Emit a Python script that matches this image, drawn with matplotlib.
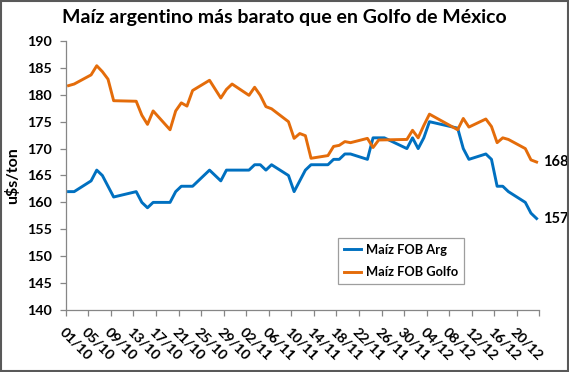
import datetime as dt

import matplotlib

matplotlib.use("Agg")
import matplotlib.pyplot as plt
from matplotlib.patches import Rectangle

YEAR = 2015
START = dt.date(YEAR, 10, 1)

# Maíz FOB Golfo (u$s/ton)
golfo_dates = [
    "01/10", "02/10", "05/10", "06/10", "07/10", "08/10", "09/10", "13/10",
    "14/10", "15/10", "16/10", "19/10", "20/10", "21/10", "22/10", "23/10",
    "26/10", "28/10", "29/10", "30/10", "02/11", "03/11", "04/11", "05/11",
    "06/11", "09/11", "10/11", "11/11", "12/11", "13/11", "16/11", "17/11",
    "18/11", "19/11", "20/11", "23/11", "24/11", "25/11", "30/11", "01/12",
    "02/12", "03/12", "04/12", "09/12", "10/12", "11/12", "14/12", "15/12",
    "16/12", "17/12", "18/12", "21/12", "22/12", "23/12",
]
golfo = [
    181.7, 182.0, 183.7, 185.4, 184.3, 182.9, 178.9, 178.8,
    176.2, 174.5, 177.0, 173.5, 177.0, 178.5, 177.9, 180.8,
    182.7, 179.4, 181.0, 182.0, 179.9, 181.4, 179.9, 177.8,
    177.4, 175.0, 171.9, 172.8, 172.4, 168.2, 168.7, 170.4,
    170.6, 171.3, 171.1, 171.9, 170.2, 171.6, 171.7, 173.4,
    172.0, 174.3, 176.4, 173.5, 175.6, 174.0, 175.5, 174.1,
    171.1, 172.0, 171.7, 170.0, 167.9, 167.5,
]

# Maíz FOB Arg (u$s/ton)
arg_dates = [
    "01/10", "02/10", "05/10", "06/10", "07/10", "08/10", "09/10", "13/10",
    "14/10", "15/10", "16/10", "19/10", "20/10", "21/10", "22/10", "23/10",
    "26/10", "28/10", "29/10", "30/10", "02/11", "03/11", "04/11", "05/11",
    "06/11", "09/11", "10/11", "11/11", "12/11", "13/11", "16/11", "17/11",
    "18/11", "19/11", "20/11", "23/11", "24/11", "25/11", "26/11", "30/11",
    "01/12", "02/12", "03/12", "04/12", "09/12", "10/12", "11/12", "14/12",
    "15/12", "16/12", "17/12", "18/12", "21/12", "22/12", "23/12",
]
arg = [
    162, 162, 164, 166, 165, 163, 161, 162,
    160, 159, 160, 160, 162, 163, 163, 163,
    166, 164, 166, 166, 166, 167, 167, 166,
    167, 165, 162, 164, 166, 167, 167, 168,
    168, 169, 169, 168, 172, 172, 172, 170,
    172, 170, 172, 175, 173.8, 170, 168, 169,
    168, 163, 163, 162, 160, 158, 157,
]

tick_labels = [
    "01/10", "05/10", "09/10", "13/10", "17/10", "21/10", "25/10", "29/10",
    "02/11", "06/11", "10/11", "14/11", "18/11", "22/11", "26/11", "30/11",
    "04/12", "08/12", "12/12", "16/12", "20/12",
]

BLUE = "#0070C0"
ORANGE = "#E46C0A"
GRAY = "#868686"


def day(s):
    d, m = map(int, s.split("/"))
    return (dt.date(YEAR, m, d) - START).days


plt.rcParams["font.family"] = ["Lato", "DejaVu Sans"]
plt.rcParams["font.weight"] = "bold"

fig = plt.figure(figsize=(5.69, 3.72), dpi=100)
ax = fig.add_axes([0.1155, 0.1667, 0.8325, 0.7231])

xa = [day(s) + 0.5 for s in arg_dates]
xg = [day(s) + 0.5 for s in golfo_dates]
ax.plot(xa, arg, color=BLUE, lw=2.1, label="Maíz FOB Arg", solid_joinstyle="round")
ax.plot(xg, golfo, color=ORANGE, lw=2.1, label="Maíz FOB Golfo", solid_joinstyle="round")

ax.annotate(f"{golfo[-1]:.0f}", (xg[-1], golfo[-1]), xytext=(4.5, 0),
            textcoords="offset points", ha="left", va="center",
            fontsize=10.5, fontweight="bold", annotation_clip=False)
ax.annotate(f"{arg[-1]:.0f}", (xa[-1], arg[-1]), xytext=(4.5, 0),
            textcoords="offset points", ha="left", va="center",
            fontsize=10.5, fontweight="bold", annotation_clip=False)

last = day(tick_labels[-1]) + 4
ax.set_xlim(0, last)
ax.set_ylim(140, 190)
ax.set_yticks(range(140, 191, 5))
ax.set_xticks([day(s) for s in tick_labels] + [last])
ax.set_xticklabels(tick_labels + [""], rotation=-45, ha="left", va="top",
                   rotation_mode="anchor")

for side in ["top", "right"]:
    ax.spines[side].set_visible(False)
for side in ["left", "bottom"]:
    ax.spines[side].set_color(GRAY)
    ax.spines[side].set_linewidth(0.9)
ax.tick_params(axis="both", colors=GRAY, labelcolor="black", length=4, width=0.9,
               labelsize=10.3)
ax.tick_params(axis="y", pad=6)
ax.tick_params(axis="x", pad=7)
for lbl in ax.get_xticklabels() + ax.get_yticklabels():
    lbl.set_fontweight("bold")

ax.set_ylabel("u$s/ton", fontsize=11.5, fontweight="bold", labelpad=5)

leg = ax.legend(loc="lower left", bbox_to_anchor=(0.575, 0.097), frameon=True,
                fancybox=False, edgecolor=GRAY, fontsize=9.3, handlelength=1.3,
                handletextpad=0.4, borderpad=0.45, labelspacing=0.8,
                borderaxespad=0)
leg.get_frame().set_linewidth(0.9)
for t in leg.get_texts():
    t.set_fontweight("bold")

fig.suptitle("Maíz argentino más barato que en Golfo de México", x=0.5, y=0.954,
             va="center", fontsize=14, fontweight="bold")

fig.patches.append(Rectangle((0.002, 0.003), 0.996, 0.994, transform=fig.transFigure,
                             fill=False, edgecolor="#595959", lw=1.5))

fig.savefig("out.png", dpi=100)
